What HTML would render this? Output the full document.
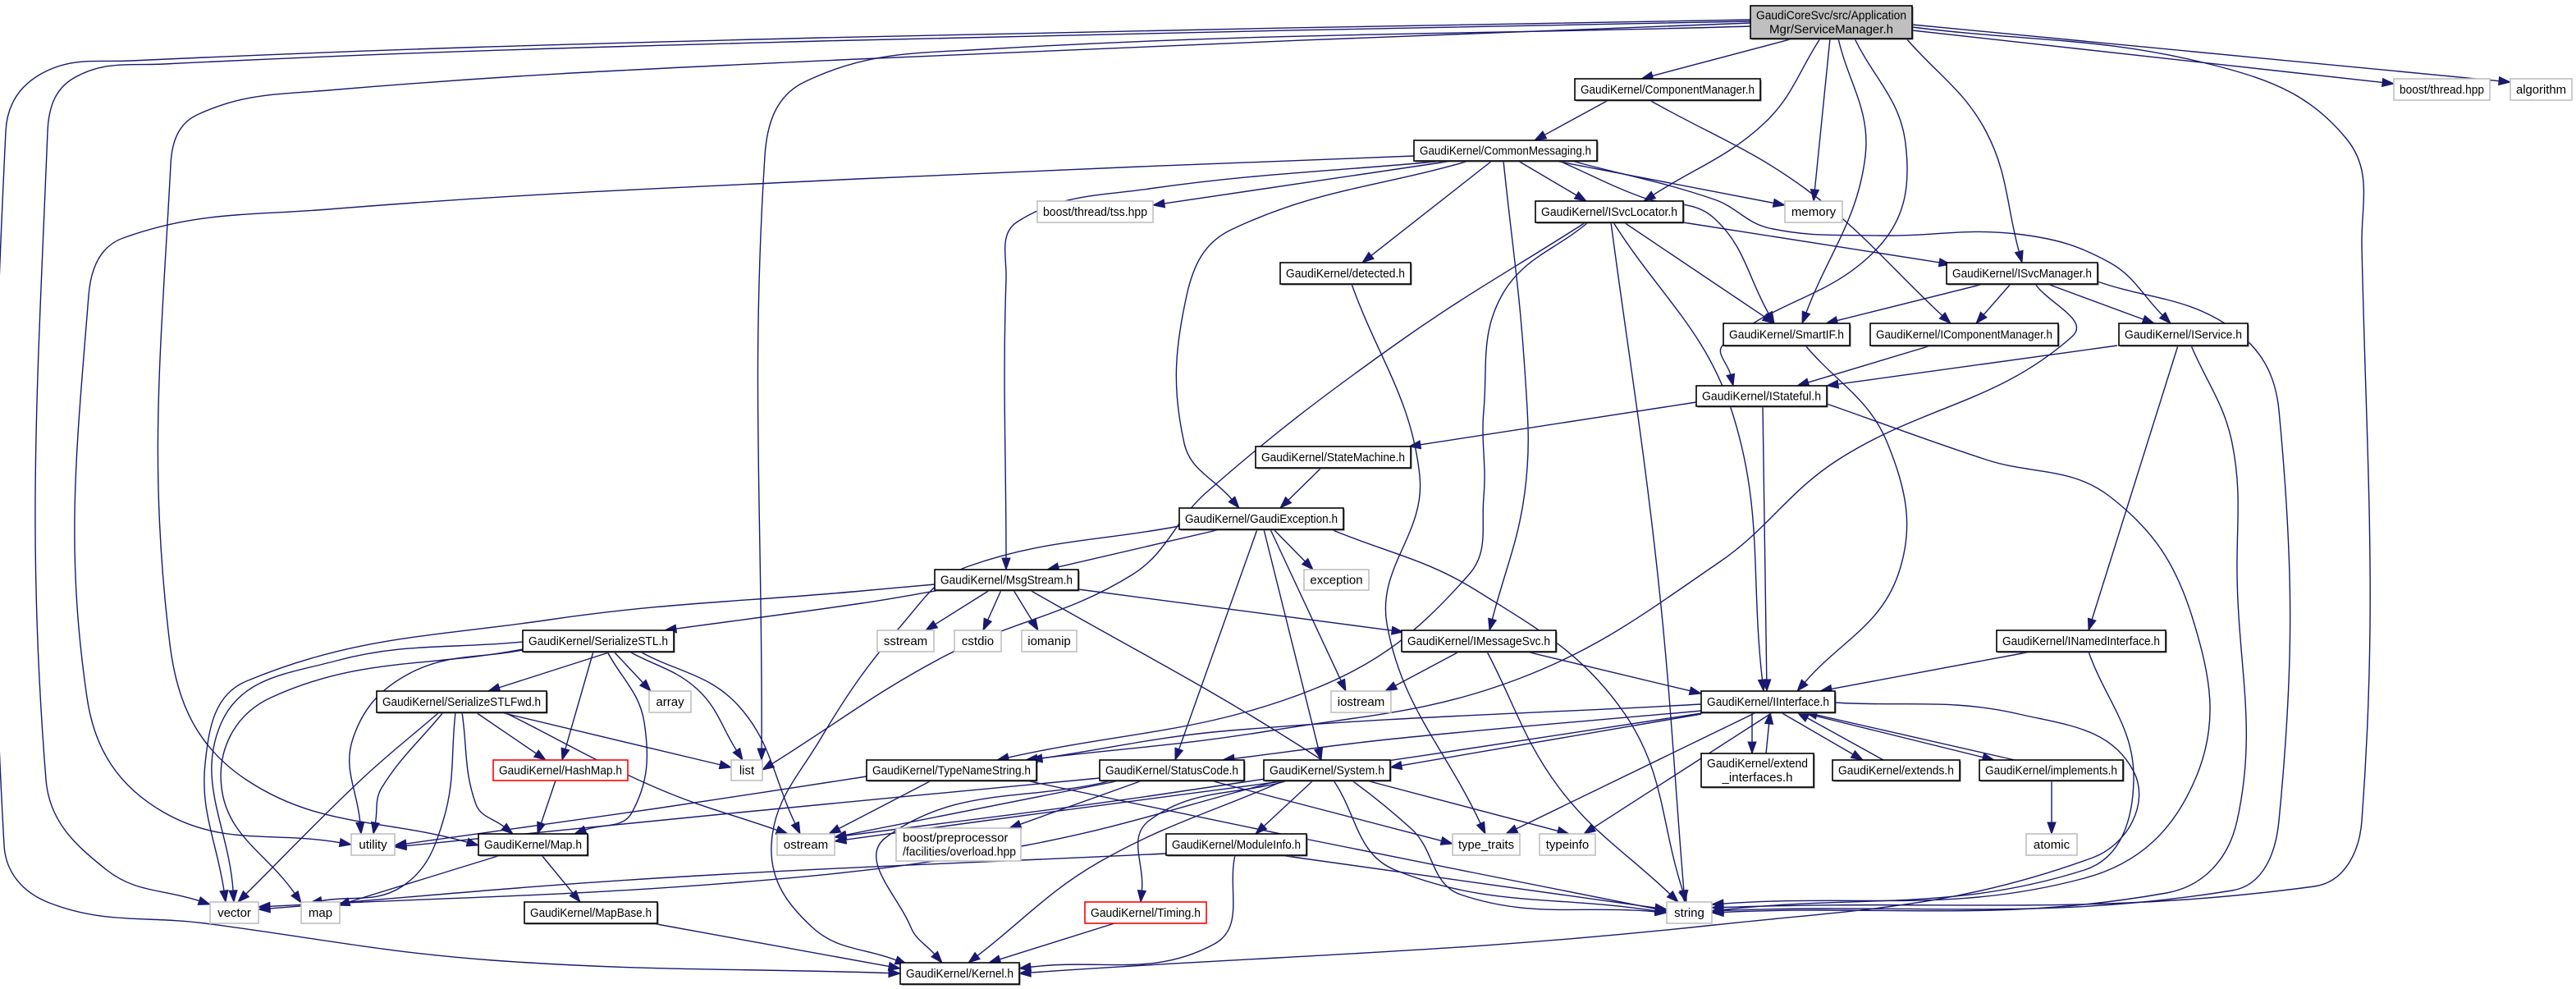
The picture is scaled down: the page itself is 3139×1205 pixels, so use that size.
<!DOCTYPE html>
<html><head><meta charset="utf-8"><style>
html,body{margin:0;padding:0;background:#fff;}
svg{display:block;}
text{font-family:"Liberation Sans",sans-serif;font-size:15px;fill:#000;}
</style></head><body>
<svg id="g" xmlns="http://www.w3.org/2000/svg" width="3139" height="1205" viewBox="0 0 3139 1205"></svg>
<script>
const S="http://www.w3.org/2000/svg";
const svg=document.getElementById('g');
const eg=document.createElementNS(S,'g');svg.appendChild(eg);
const ng=document.createElementNS(S,'g');svg.appendChild(ng);
const N=[
[2133,7,2330,47,["GaudiCoreSvc/src/Application","Mgr/ServiceManager.h"],"root"],
[2917,96,3034,122,["boost/thread.hpp"],"g"],
[3059,96,3134,122,["algorithm"],"g"],
[1919,96,2145,122,["GaudiKernel/ComponentManager.h"],"b"],
[1723,171,1946,196,["GaudiKernel/CommonMessaging.h"],"b"],
[1264,245,1405,271,["boost/thread/tss.hpp"],"g"],
[1871,245,2051,271,["GaudiKernel/ISvcLocator.h"],"b"],
[2175,245,2245,271,["memory"],"g"],
[1560,320,1719,346,["GaudiKernel/detected.h"],"b"],
[2372,320,2556,346,["GaudiKernel/ISvcManager.h"],"b"],
[2100,394,2254,421,["GaudiKernel/SmartIF.h"],"b"],
[2279,394,2508,421,["GaudiKernel/IComponentManager.h"],"b"],
[2582,394,2739,421,["GaudiKernel/IService.h"],"b"],
[2067,470,2226,495,["GaudiKernel/IStateful.h"],"b"],
[1530,544,1719,570,["GaudiKernel/StateMachine.h"],"b"],
[1437,619,1637,645,["GaudiKernel/GaudiException.h"],"b"],
[1139,694,1314,719,["GaudiKernel/MsgStream.h"],"b"],
[1589,694,1668,719,["exception"],"g"],
[1069,768,1138,794,["sstream"],"g"],
[1163,768,1220,794,["cstdio"],"g"],
[1245,768,1312,794,["iomanip"],"g"],
[1708,768,1896,794,["GaudiKernel/IMessageSvc.h"],"b"],
[2433,768,2639,794,["GaudiKernel/INamedInterface.h"],"b"],
[637,768,821,794,["GaudiKernel/SerializeSTL.h"],"b"],
[459,842,666,868,["GaudiKernel/SerializeSTLFwd.h"],"b"],
[791,842,842,868,["array"],"g"],
[1622,842,1695,868,["iostream"],"g"],
[2073,842,2236,868,["GaudiKernel/IInterface.h"],"b"],
[601,926,765,951,["GaudiKernel/HashMap.h"],"r"],
[891,926,929,951,["list"],"g"],
[1056,926,1263,951,["GaudiKernel/TypeNameString.h"],"b"],
[1340,926,1516,951,["GaudiKernel/StatusCode.h"],"b"],
[1540,926,1694,951,["GaudiKernel/System.h"],"b"],
[2073,918,2210,959,["GaudiKernel/extend","_interfaces.h"],"b"],
[2233,926,2388,951,["GaudiKernel/extends.h"],"b"],
[2412,926,2587,951,["GaudiKernel/implements.h"],"b"],
[428,1016,481,1042,["utility"],"g"],
[583,1016,716,1042,["GaudiKernel/Map.h"],"b"],
[947,1016,1017,1042,["ostream"],"g"],
[1092,1009,1244,1049,["boost/preprocessor","/facilities/overload.hpp"],"gl"],
[1421,1016,1592,1042,["GaudiKernel/ModuleInfo.h"],"b"],
[1770,1016,1852,1042,["type_traits"],"g"],
[1876,1016,1944,1042,["typeinfo"],"g"],
[2469,1016,2531,1042,["atomic"],"g"],
[256,1099,315,1125,["vector"],"g"],
[367,1099,414,1125,["map"],"g"],
[639,1099,801,1125,["GaudiKernel/MapBase.h"],"b"],
[1322,1099,1470,1125,["GaudiKernel/Timing.h"],"r"],
[2031,1099,2086,1125,["string"],"g"],
[1097,1173,1242,1199,["GaudiKernel/Kernel.h"],"b"]
];
const E=[
[[2185,47],[2000,96]],
[[2218,47],[2150,150],[2003,245]],
[[2230,47],[2210,245]],
[[2240,47],[2273,190],[2196,394]],
[[2260,47],[2322,175],[2290,300],[2100,420],[2112,470]],
[[2323,47],[2420,160],[2464,320]],
[[2330,37],[2917,102]],
[[2330,30],[3059,100]],
[[2330,33],[2700,80],[2860,170],[2878,300],[2878,1000],[2820,1080],[2086,1106]],
[[2133,32],[1200,60],[980,100],[932,190],[928,926]],
[[2133,28],[1045,72],[400,110],[240,140],[208,200],[207,785],[300,950],[583,1030]],
[[2133,26],[1000,50],[200,78],[90,95],[58,160],[56,950],[130,1060],[256,1102]],
[[2133,24],[1000,46],[160,74],[50,90],[7,160],[5,1030],[60,1100],[250,1125],[600,1170],[1097,1186]],
[[1960,122],[1870,171]],
[[2010,122],[2200,230],[2377,394]],
[[1770,196],[1405,250]],
[[1723,190],[1045,218],[400,255],[150,290],[108,360],[106,850],[200,990],[428,1029]],
[[1760,196],[1400,230],[1240,270],[1226,340],[1226,694]],
[[1790,196],[1500,280],[1446,360],[1443,540],[1510,619]],
[[1818,196],[1660,320]],
[[1832,196],[1858,450],[1858,600],[1815,768]],
[[1850,196],[1933,245]],
[[1895,196],[2175,250]],
[[1900,196],[2000,240],[2089,266],[2162,394]],
[[1915,196],[2089,243],[2156,278],[2290,287],[2457,285],[2571,320],[2645,394]],
[[2051,271],[2377,322]],
[[1979,271],[2162,394]],
[[1932,271],[1700,420],[1470,600],[1380,700],[1150,800],[929,938]],
[[1935,271],[1830,360],[1808,500],[1808,605],[1790,700],[1600,840],[1215,926]],
[[1966,271],[2110,500],[2149,842]],
[[1963,271],[2020,700],[2053,1099]],
[[1647,346],[1730,580],[1690,760],[1810,1016]],
[[2417,346],[2225,394]],
[[2450,346],[2408,394]],
[[2495,346],[2625,394]],
[[2556,343],[2720,400],[2777,500],[2777,1000],[2720,1085],[2086,1110]],
[[2480,346],[2525,410],[2240,560],[2095,685],[1848,828],[1550,890],[1250,926]],
[[2200,421],[2300,540],[2313,700],[2190,842]],
[[2353,421],[2190,470]],
[[2580,421],[2226,470]],
[[2654,421],[2545,768]],
[[2670,421],[2720,540],[2726,700],[2726,1000],[2640,1088],[2086,1112]],
[[2067,490],[1717,544]],
[[2148,495],[2153,842]],
[[2226,492],[2420,560],[2571,605],[2672,754],[2676,947],[2540,1070],[2086,1102]],
[[1610,570],[1560,619]],
[[1487,645],[1276,694]],
[[1437,641],[1180,690],[1100,760],[1000,900],[940,1030],[990,1130],[1105,1175]],
[[1552,645],[1600,694]],
[[1548,645],[1640,842]],
[[1532,645],[1432,926]],
[[1540,645],[1610,926]],
[[1622,645],[1800,720],[1980,870],[2055,1099]],
[[1146,719],[1050,735],[810,768]],
[[1139,712],[1050,720],[670,755],[300,830],[250,930],[275,1099]],
[[1206,719],[1128,768]],
[[1220,719],[1198,768]],
[[1235,719],[1265,768]],
[[1314,718],[1710,770]],
[[1255,719],[1570,900],[1720,1010],[1780,1090],[2031,1112]],
[[1778,794],[1688,842]],
[[1812,794],[1900,960],[2045,1099]],
[[1860,794],[2073,845]],
[[745,794],[595,842]],
[[723,794],[685,926]],
[[748,794],[793,842]],
[[767,794],[850,840],[905,926]],
[[780,794],[900,860],[975,1016]],
[[740,794],[785,880],[770,990],[700,1016]],
[[637,782],[410,805],[270,880],[285,1099]],
[[637,791],[330,850],[270,960],[367,1100]],
[[637,792],[500,820],[430,900],[440,1016]],
[[580,868],[665,926]],
[[610,868],[891,935]],
[[615,868],[800,960],[960,1016]],
[[563,868],[580,980],[625,1016]],
[[540,868],[465,960],[455,1016]],
[[555,868],[540,1000],[490,1080],[378,1100]],
[[535,868],[440,950],[290,1099]],
[[677,951],[655,1016]],
[[610,1042],[412,1103]],
[[660,1042],[707,1099]],
[[795,1125],[1097,1180]],
[[1056,946],[800,985],[481,1030]],
[[1135,951],[1010,1016]],
[[1250,951],[1580,1020],[2031,1110]],
[[1340,948],[900,990],[481,1032]],
[[1365,951],[1017,1020]],
[[1392,951],[1230,1009]],
[[1475,951],[1770,1028]],
[[1355,951],[1080,1020],[1110,1130],[1148,1173]],
[[1570,951],[1200,1000],[1017,1025]],
[[1560,951],[1250,1030],[900,1075],[315,1105]],
[[1600,951],[1530,1016]],
[[1570,951],[1400,1000],[1390,1099]],
[[1565,951],[1340,1050],[1180,1173]],
[[1625,951],[1700,1060],[2031,1112]],
[[1665,951],[1912,1016]],
[[1421,1040],[800,1070],[315,1108]],
[[1560,1042],[2031,1108]],
[[1505,1042],[1480,1150],[1242,1180]],
[[1358,1125],[1205,1173]],
[[2236,856],[2460,870],[2600,940],[2550,1045],[2089,1127],[1242,1186]],
[[2073,858],[1500,890],[1256,926]],
[[2073,866],[1700,900],[1490,926]],
[[2073,870],[1694,935]],
[[2080,868],[1400,970],[1017,1020]],
[[2140,868],[1835,1016]],
[[2160,868],[1930,1016]],
[[2135,868],[2135,918]],
[[2152,918],[2157,868]],
[[2170,868],[2270,926]],
[[2295,926],[2190,868]],
[[2195,868],[2430,926]],
[[2455,926],[2200,868]],
[[2475,794],[2218,842]],
[[2545,794],[2600,950],[2540,1060],[2086,1110]],
[[2500,951],[2500,1016]]
];
const C="#191970";
function add(tag,attrs,par){const e=document.createElementNS(S,tag);for(const k in attrs)e.setAttribute(k,attrs[k]);(par||eg).appendChild(e);return e;}
function nrm(v){const l=Math.hypot(v[0],v[1])||1;return [v[0]/l,v[1]/l];}
E.forEach(p=>{
  p=p.map(a=>a.slice());
  const n=p.length;
  const L=14;
  const b=p[n-1];
  let t=nrm([b[0]-p[n-2][0],b[1]-p[n-2][1]]);
  const tip=b.slice();
  const base=[tip[0]-t[0]*L,tip[1]-t[1]*L];
  p[n-1]=base;
  let d="M"+p[0][0]+","+p[0][1];
  if(n==2){d+=" L"+base[0]+","+base[1];}
  else{
    const T=p.map((q,i)=>{
      if(i==0) return nrm([p[1][0]-q[0],p[1][1]-q[1]]);
      if(i==n-1) return t;
      return nrm([p[i+1][0]-p[i-1][0],p[i+1][1]-p[i-1][1]]);
    });
    for(let i=0;i<n-1;i++){
      const p1=p[i],p2=p[i+1];
      const sl=Math.hypot(p2[0]-p1[0],p2[1]-p1[1])*0.38;
      const c1=[p1[0]+T[i][0]*sl,p1[1]+T[i][1]*sl];
      const c2=[p2[0]-T[i+1][0]*sl,p2[1]-T[i+1][1]*sl];
      d+=" C"+c1+" "+c2+" "+p2;
    }
  }
  add('path',{d:d,fill:'none',stroke:C,'stroke-width':1.4});
  const px=-t[1],py=t[0],w=5;
  add('polygon',{points:[tip,[base[0]+px*w,base[1]+py*w],[base[0]-px*w,base[1]-py*w]].map(q=>q.join(',')).join(' '),fill:C,stroke:C,'stroke-width':1});
});
N.forEach(n=>{
  const [x1,y1,x2,y2,lines,st]=n;
  const stroke=st=="b"||st=="root"?"#000":st=="r"?"#ff0000":"#bfbfbf";
  const fill=st=="root"?"#bfbfbf":"#fff";
  if(st=="b"||st=="root") add('rect',{x:x1+1.5,y:y1+1.5,width:x2-x1,height:y2-y1,fill:'#666'},ng);
  add('rect',{x:x1,y:y1,width:x2-x1,height:y2-y1,fill:fill,stroke:stroke,'stroke-width':1.6},ng);
  const lh=17,cx=(x1+x2)/2;
  const top=(y1+y2)/2-(lines.length*lh)/2;
  lines.forEach((t,i)=>{
    const left=st=="gl";
    const te=add('text',{x:left?x1+8:cx,y:top+lh*i+13.5,'text-anchor':left?'start':'middle'},ng);
    te.textContent=t;
    const avail=(x2-x1)-14;
    try{const w=te.getComputedTextLength();if(w>avail){te.setAttribute('textLength',avail);te.setAttribute('lengthAdjust','spacingAndGlyphs');}}catch(e){}
  });
});
</script>
</body></html>
